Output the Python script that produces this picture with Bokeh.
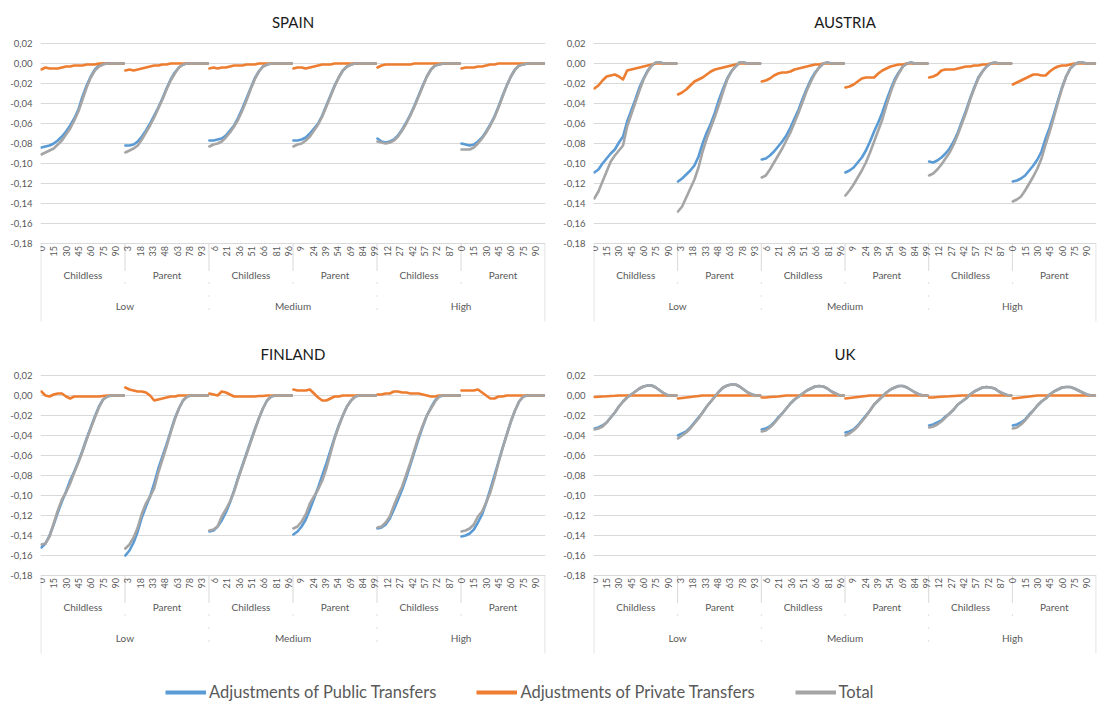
import math
import numpy as np
from bokeh.plotting import figure
from bokeh.models import (Range1d, FixedTicker, CustomJSTickFormatter, ColumnDataSource,
                          Legend, LegendItem, Grid)
from bokeh.layouts import column, row
from bokeh.embed import file_html
from bokeh.resources import INLINE
from bokeh.core.properties import value

# ---------------- data ----------------
AGES = [0, 5, 10, 15, 20, 25, 30, 35, 40, 45, 50, 55, 60, 65, 70, 75, 80, 85, 90, 95, 100]
GROUP_SIZE = 102          # ages 0..101 per category group
LEVELS = ["Low", "Medium", "High"]
STATUSES = ["Childless", "Parent"]
Y_TICKS = [0.02, 0.00, -0.02, -0.04, -0.06, -0.08, -0.10, -0.12, -0.14, -0.16, -0.18]
AGE_TICK_STEP = 15
SERIES_NAMES = ["Adjustments of Public Transfers", "Adjustments of Private Transfers", "Total"]

SPAIN_PUB = [
    [-0.084, -0.083, -0.082, -0.080, -0.077, -0.073, -0.068, -0.062, -0.055, -0.046, -0.033, -0.022, -0.013, -0.006, -0.002, 0, 0, 0, 0, 0, 0],
    [-0.082, -0.082, -0.081, -0.078, -0.073, -0.067, -0.060, -0.052, -0.044, -0.035, -0.025, -0.016, -0.009, -0.004, -0.001, 0, 0, 0, 0, 0, 0],
    [-0.077, -0.077, -0.076, -0.075, -0.072, -0.067, -0.062, -0.054, -0.045, -0.035, -0.025, -0.015, -0.008, -0.003, -0.001, 0, 0, 0, 0, 0, 0],
    [-0.077, -0.077, -0.076, -0.074, -0.070, -0.065, -0.060, -0.052, -0.042, -0.032, -0.022, -0.014, -0.007, -0.003, -0.001, 0, 0, 0, 0, 0, 0],
    [-0.075, -0.078, -0.079, -0.078, -0.076, -0.072, -0.066, -0.059, -0.051, -0.042, -0.032, -0.022, -0.013, -0.006, -0.002, -0.001, 0, 0, 0, 0, 0],
    [-0.080, -0.081, -0.082, -0.081, -0.078, -0.074, -0.068, -0.061, -0.053, -0.043, -0.032, -0.022, -0.013, -0.006, -0.002, -0.001, 0, 0, 0, 0, 0],
]
SPAIN_PRIV = [
    [-0.006, -0.004, -0.005, -0.005, -0.005, -0.004, -0.003, -0.003, -0.002, -0.002, -0.002, -0.001, -0.001, -0.001, 0, 0, 0, 0, 0, 0, 0],
    [-0.007, -0.006, -0.007, -0.006, -0.005, -0.004, -0.003, -0.002, -0.002, -0.001, -0.001, 0, 0, 0, 0, 0, 0, 0, 0, 0, 0],
    [-0.005, -0.004, -0.005, -0.004, -0.004, -0.003, -0.002, -0.002, -0.002, -0.001, -0.001, -0.001, 0, 0, 0, 0, 0, 0, 0, 0, 0],
    [-0.005, -0.004, -0.004, -0.005, -0.004, -0.003, -0.002, -0.001, -0.001, -0.001, 0, 0, 0, 0, 0, 0, 0, 0, 0, 0, 0],
    [-0.004, -0.002, -0.001, -0.001, -0.001, -0.001, -0.001, -0.001, -0.001, 0, 0, 0, 0, 0, 0, 0, 0, 0, 0, 0, 0],
    [-0.005, -0.004, -0.004, -0.004, -0.003, -0.003, -0.002, -0.001, -0.001, 0, 0, 0, 0, 0, 0, 0, 0, 0, 0, 0, 0],
]
SPAIN_TOT = [
    [-0.091, -0.089, -0.087, -0.085, -0.081, -0.077, -0.071, -0.065, -0.057, -0.048, -0.036, -0.024, -0.014, -0.007, -0.003, -0.001, 0, 0, 0, 0, 0],
    [-0.089, -0.087, -0.085, -0.082, -0.076, -0.069, -0.062, -0.054, -0.045, -0.036, -0.026, -0.017, -0.010, -0.004, -0.001, 0, 0, 0, 0, 0, 0],
    [-0.083, -0.081, -0.080, -0.078, -0.074, -0.069, -0.063, -0.056, -0.047, -0.037, -0.026, -0.016, -0.008, -0.003, -0.001, 0, 0, 0, 0, 0, 0],
    [-0.083, -0.081, -0.080, -0.077, -0.073, -0.067, -0.061, -0.053, -0.043, -0.033, -0.023, -0.014, -0.007, -0.003, -0.001, 0, 0, 0, 0, 0, 0],
    [-0.078, -0.079, -0.080, -0.079, -0.077, -0.073, -0.067, -0.060, -0.052, -0.043, -0.033, -0.023, -0.013, -0.006, -0.002, -0.001, 0, 0, 0, 0, 0],
    [-0.086, -0.086, -0.086, -0.084, -0.080, -0.075, -0.069, -0.062, -0.054, -0.044, -0.033, -0.022, -0.013, -0.006, -0.002, -0.001, 0, 0, 0, 0, 0],
]

AUSTRIA_PUB = [
    [-0.109, -0.106, -0.100, -0.095, -0.090, -0.086, -0.079, -0.073, -0.058, -0.047, -0.036, -0.024, -0.015, -0.007, -0.002, 0.001, 0.001, 0, 0, 0, 0],
    [-0.118, -0.115, -0.111, -0.107, -0.102, -0.093, -0.080, -0.069, -0.060, -0.049, -0.036, -0.025, -0.015, -0.008, -0.003, 0.001, 0.001, 0, 0, 0, 0],
    [-0.096, -0.095, -0.092, -0.088, -0.083, -0.078, -0.072, -0.064, -0.055, -0.046, -0.035, -0.025, -0.016, -0.009, -0.004, 0, 0.001, 0, 0, 0, 0],
    [-0.109, -0.107, -0.104, -0.099, -0.094, -0.087, -0.078, -0.068, -0.059, -0.049, -0.037, -0.026, -0.016, -0.009, -0.003, 0, 0.001, 0, 0, 0, 0],
    [-0.098, -0.099, -0.097, -0.094, -0.090, -0.085, -0.078, -0.069, -0.058, -0.047, -0.035, -0.024, -0.014, -0.008, -0.003, 0, 0.001, 0, 0, 0, 0],
    [-0.118, -0.117, -0.115, -0.112, -0.107, -0.102, -0.096, -0.088, -0.075, -0.064, -0.051, -0.037, -0.024, -0.013, -0.005, -0.001, 0.001, 0.001, 0, 0, 0],
]
AUSTRIA_PRIV = [
    [-0.025, -0.022, -0.017, -0.013, -0.012, -0.011, -0.013, -0.016, -0.007, -0.006, -0.005, -0.004, -0.003, -0.002, -0.001, 0, 0, 0, 0, 0, 0],
    [-0.031, -0.029, -0.026, -0.022, -0.018, -0.016, -0.014, -0.011, -0.008, -0.006, -0.005, -0.004, -0.003, -0.002, -0.001, 0, 0, 0, 0, 0, 0],
    [-0.018, -0.017, -0.015, -0.012, -0.010, -0.009, -0.009, -0.008, -0.006, -0.005, -0.004, -0.003, -0.002, -0.001, -0.001, 0, 0, 0, 0, 0, 0],
    [-0.024, -0.023, -0.021, -0.018, -0.015, -0.014, -0.014, -0.014, -0.010, -0.007, -0.005, -0.003, -0.002, -0.001, -0.001, 0, 0, 0, 0, 0, 0],
    [-0.014, -0.013, -0.011, -0.007, -0.006, -0.006, -0.006, -0.005, -0.004, -0.003, -0.003, -0.002, -0.002, -0.001, -0.001, 0, 0, 0, 0, 0, 0],
    [-0.021, -0.019, -0.017, -0.015, -0.013, -0.011, -0.011, -0.012, -0.012, -0.008, -0.005, -0.003, -0.002, -0.002, -0.001, 0, 0, 0, 0, 0, 0],
]
AUSTRIA_TOT = [
    [-0.135, -0.128, -0.118, -0.108, -0.098, -0.092, -0.087, -0.082, -0.063, -0.051, -0.039, -0.027, -0.016, -0.008, -0.002, 0.001, 0.001, 0, 0, 0, 0],
    [-0.148, -0.143, -0.134, -0.125, -0.116, -0.104, -0.088, -0.075, -0.064, -0.053, -0.041, -0.028, -0.016, -0.008, -0.003, 0.001, 0.001, 0, 0, 0, 0],
    [-0.114, -0.112, -0.106, -0.099, -0.092, -0.085, -0.077, -0.069, -0.059, -0.049, -0.038, -0.027, -0.018, -0.010, -0.004, 0, 0.001, 0, 0, 0, 0],
    [-0.132, -0.127, -0.121, -0.114, -0.107, -0.099, -0.089, -0.078, -0.067, -0.056, -0.042, -0.029, -0.018, -0.010, -0.003, 0, 0.001, 0, 0, 0, 0],
    [-0.112, -0.110, -0.106, -0.101, -0.095, -0.089, -0.081, -0.071, -0.060, -0.049, -0.036, -0.025, -0.015, -0.008, -0.003, 0, 0.001, 0, 0, 0, 0],
    [-0.138, -0.136, -0.133, -0.127, -0.120, -0.113, -0.105, -0.095, -0.081, -0.068, -0.054, -0.039, -0.025, -0.013, -0.005, -0.001, 0.001, 0.001, 0, 0, 0],
]

FINLAND_PUB = [
    [-0.152, -0.148, -0.140, -0.129, -0.117, -0.106, -0.096, -0.085, -0.076, -0.066, -0.055, -0.043, -0.032, -0.021, -0.011, -0.004, -0.001, 0, 0, 0, 0],
    [-0.160, -0.155, -0.147, -0.136, -0.122, -0.111, -0.101, -0.088, -0.073, -0.061, -0.049, -0.036, -0.023, -0.013, -0.005, -0.001, 0, 0, 0, 0, 0],
    [-0.136, -0.135, -0.131, -0.125, -0.117, -0.107, -0.095, -0.082, -0.070, -0.058, -0.046, -0.034, -0.023, -0.013, -0.005, -0.001, 0, 0, 0, 0, 0],
    [-0.139, -0.136, -0.131, -0.124, -0.114, -0.103, -0.092, -0.080, -0.068, -0.055, -0.042, -0.030, -0.020, -0.011, -0.005, -0.001, 0, 0, 0, 0, 0],
    [-0.133, -0.132, -0.129, -0.123, -0.114, -0.104, -0.094, -0.082, -0.069, -0.056, -0.043, -0.031, -0.020, -0.012, -0.005, -0.001, 0, 0, 0, 0, 0],
    [-0.141, -0.140, -0.138, -0.134, -0.127, -0.119, -0.107, -0.094, -0.080, -0.066, -0.052, -0.039, -0.026, -0.015, -0.006, -0.001, 0, 0, 0, 0, 0],
]
FINLAND_PRIV = [
    [0.004, 0.000, -0.001, 0.001, 0.002, 0.002, -0.001, -0.003, -0.001, -0.001, -0.001, -0.001, -0.001, -0.001, -0.001, -0.0005, 0, 0, 0, 0, 0],
    [0.008, 0.006, 0.005, 0.004, 0.004, 0.003, 0.000, -0.005, -0.004, -0.003, -0.002, -0.001, -0.001, 0, 0, 0, 0, 0, 0, 0, 0],
    [0.002, 0.001, 0.000, 0.004, 0.003, 0.001, -0.001, -0.001, -0.001, -0.001, -0.001, -0.001, -0.0005, -0.0005, 0, 0, 0, 0, 0, 0, 0],
    [0.006, 0.005, 0.005, 0.005, 0.006, 0.002, -0.002, -0.005, -0.005, -0.003, -0.001, -0.001, 0, 0, 0, 0, 0, 0, 0, 0, 0],
    [0.001, 0.001, 0.002, 0.002, 0.004, 0.004, 0.003, 0.003, 0.002, 0.002, 0.002, 0.001, 0.000, -0.001, -0.001, 0, 0, 0, 0, 0, 0],
    [0.005, 0.005, 0.005, 0.005, 0.006, 0.003, 0.000, -0.003, -0.003, -0.001, -0.001, 0, 0, 0, 0, 0, 0, 0, 0, 0, 0],
]
FINLAND_TOT = [
    [-0.149, -0.148, -0.141, -0.128, -0.115, -0.104, -0.097, -0.088, -0.077, -0.067, -0.056, -0.044, -0.033, -0.022, -0.012, -0.004, -0.001, 0, 0, 0, 0],
    [-0.153, -0.149, -0.142, -0.132, -0.118, -0.108, -0.101, -0.093, -0.077, -0.064, -0.051, -0.037, -0.024, -0.013, -0.005, -0.001, 0, 0, 0, 0, 0],
    [-0.135, -0.134, -0.131, -0.121, -0.114, -0.106, -0.096, -0.083, -0.071, -0.059, -0.047, -0.035, -0.023, -0.013, -0.005, -0.001, 0, 0, 0, 0, 0],
    [-0.133, -0.131, -0.126, -0.119, -0.108, -0.101, -0.094, -0.085, -0.073, -0.058, -0.043, -0.031, -0.020, -0.011, -0.005, -0.001, 0, 0, 0, 0, 0],
    [-0.132, -0.131, -0.127, -0.121, -0.110, -0.100, -0.091, -0.079, -0.067, -0.054, -0.041, -0.030, -0.020, -0.013, -0.006, -0.001, 0, 0, 0, 0, 0],
    [-0.136, -0.135, -0.133, -0.129, -0.121, -0.116, -0.107, -0.097, -0.083, -0.067, -0.053, -0.039, -0.026, -0.015, -0.006, -0.001, 0, 0, 0, 0, 0],
]

UK_PUB = [
    [-0.033, -0.032, -0.030, -0.027, -0.022, -0.017, -0.011, -0.006, -0.002, 0.001, 0.004, 0.007, 0.009, 0.010, 0.010, 0.008, 0.005, 0.002, 0.000, 0, 0],
    [-0.040, -0.038, -0.036, -0.032, -0.027, -0.022, -0.017, -0.011, -0.006, -0.001, 0.004, 0.008, 0.010, 0.011, 0.011, 0.009, 0.006, 0.003, 0.001, 0, 0],
    [-0.034, -0.033, -0.031, -0.027, -0.022, -0.018, -0.013, -0.008, -0.004, -0.001, 0.002, 0.005, 0.007, 0.009, 0.0095, 0.009, 0.007, 0.004, 0.002, 0, 0],
    [-0.037, -0.036, -0.034, -0.030, -0.025, -0.020, -0.015, -0.009, -0.005, -0.001, 0.003, 0.006, 0.008, 0.0095, 0.0095, 0.008, 0.0055, 0.003, 0.001, 0, 0],
    [-0.030, -0.029, -0.027, -0.025, -0.021, -0.018, -0.014, -0.009, -0.006, -0.003, 0.001, 0.004, 0.006, 0.008, 0.0085, 0.008, 0.007, 0.004, 0.002, 0.0005, 0],
    [-0.030, -0.029, -0.027, -0.024, -0.019, -0.015, -0.010, -0.006, -0.003, 0.001, 0.004, 0.006, 0.008, 0.0085, 0.0085, 0.007, 0.005, 0.003, 0.001, 0, 0],
]
UK_PRIV = [
    [-0.0015, -0.0012, -0.001, -0.0008, -0.0005, -0.0003, 0, 0, 0, 0, 0, 0, 0, 0, 0, 0, 0, 0, 0, 0, 0],
    [-0.003, -0.0025, -0.002, -0.0015, -0.001, -0.0005, 0, 0, 0, 0, 0, 0, 0, 0, 0, 0, 0, 0, 0, 0, 0],
    [-0.002, -0.002, -0.0015, -0.0012, -0.001, -0.0005, 0, 0, 0, 0, 0, 0, 0, 0, 0, 0, 0, 0, 0, 0, 0],
    [-0.003, -0.0025, -0.002, -0.0015, -0.001, -0.0005, 0, 0, 0, 0, 0, 0, 0, 0, 0, 0, 0, 0, 0, 0, 0],
    [-0.002, -0.002, -0.0015, -0.0012, -0.001, -0.0008, -0.0005, -0.0002, 0, 0, 0, 0, 0, 0, 0, 0, 0, 0, 0, 0, 0],
    [-0.003, -0.0025, -0.002, -0.0015, -0.001, -0.0005, 0, 0, 0, 0, 0, 0, 0, 0, 0, 0, 0, 0, 0, 0, 0],
]
UK_TOT = [
    [-0.034, -0.033, -0.031, -0.027, -0.022, -0.017, -0.011, -0.006, -0.002, 0.001, 0.004, 0.007, 0.009, 0.010, 0.010, 0.008, 0.005, 0.002, 0.000, 0, 0],
    [-0.043, -0.040, -0.037, -0.033, -0.028, -0.023, -0.017, -0.011, -0.006, -0.001, 0.004, 0.008, 0.010, 0.011, 0.011, 0.009, 0.006, 0.003, 0.001, 0, 0],
    [-0.036, -0.035, -0.032, -0.028, -0.023, -0.018, -0.013, -0.008, -0.004, -0.001, 0.002, 0.005, 0.007, 0.009, 0.0095, 0.009, 0.007, 0.004, 0.002, 0, 0],
    [-0.040, -0.038, -0.035, -0.031, -0.026, -0.021, -0.015, -0.009, -0.005, -0.001, 0.003, 0.006, 0.008, 0.0095, 0.0095, 0.008, 0.0055, 0.003, 0.001, 0, 0],
    [-0.032, -0.031, -0.029, -0.026, -0.022, -0.018, -0.014, -0.009, -0.006, -0.003, 0.001, 0.004, 0.006, 0.008, 0.0085, 0.008, 0.007, 0.004, 0.002, 0.0005, 0],
    [-0.033, -0.032, -0.029, -0.025, -0.020, -0.015, -0.010, -0.006, -0.003, 0.001, 0.004, 0.006, 0.008, 0.0085, 0.0085, 0.007, 0.005, 0.003, 0.001, 0, 0],
]

# ---------------- style ----------------
COLORS = ["#5B9BD5", "#ED7D31", "#A5A5A5"]
GRID_COLOR = "#D9D9D9"
LABEL_COLOR = "#595959"
FONT = "Lato"
N_GROUPS = len(LEVELS) * len(STATUSES)
N_CAT = N_GROUPS * GROUP_SIZE
Y_TOP = 0.025
Y_BOTTOM = -0.267
FRAME_H = 292
PX = (Y_TOP - Y_BOTTOM) / FRAME_H
AXIS_Y = min(Y_TICKS)


def series_xy(rows):
    xs, ys = [], []
    for g, vals in enumerate(rows):
        for a, v in zip(AGES, vals):
            xs.append(g * GROUP_SIZE + a + 0.5)
            ys.append(v)
        xs.append(np.nan)
        ys.append(np.nan)
    return np.array(xs, dtype=float), np.array(ys, dtype=float)


def make_panel(title, series, left, frame_w, right, top):
    p = figure(frame_width=frame_w, frame_height=FRAME_H,
               x_range=Range1d(-0.5, N_CAT + 0.5), y_range=Range1d(Y_BOTTOM, Y_TOP),
               output_backend="svg", toolbar_location=None, x_axis_location=None,
               min_border_left=left, min_border_right=right, min_border_top=top,
               min_border_bottom=0, outline_line_color=None, background_fill_color="white",
               border_fill_color="white")
    p.title.text = title
    p.title.align = "center"
    p.title.text_font = FONT
    p.title.text_font_size = "15px"
    p.title.text_font_style = "normal"
    p.title.text_color = "#1a1a1a"
    p.title.standoff = 16

    ya = p.yaxis[0]
    ya.ticker = FixedTicker(ticks=Y_TICKS)
    ya.formatter = CustomJSTickFormatter(code="return tick.toFixed(2).replace('.', ',');")
    ya.axis_line_color = None
    ya.major_tick_line_color = None
    ya.minor_tick_line_color = None
    ya.major_tick_out = 0
    ya.major_tick_in = 0
    ya.major_label_standoff = 8
    ya.major_label_text_font = FONT
    ya.major_label_text_font_size = "9.5px"
    ya.major_label_text_color = LABEL_COLOR
    for g in p.grid:
        g.visible = False
    p.add_layout(Grid(dimension=1, ticker=FixedTicker(ticks=Y_TICKS),
                      grid_line_color=GRID_COLOR, grid_line_width=1))

    # category separators below the axis
    bounds = [g * GROUP_SIZE for g in range(N_GROUPS + 1)]
    solid_x, solid_y1, dash_x, dash_y1 = [], [], [], []
    for i, b in enumerate(bounds):
        if i == 0 or i == N_GROUPS:
            solid_x.append(b); solid_y1.append(AXIS_Y - 78 * PX)
        else:
            solid_x.append(b); solid_y1.append(AXIS_Y - 26 * PX)
            dash_x.append(b)
            dash_y1.append(AXIS_Y - (78 if i % 2 == 0 else 48) * PX)
    p.segment(x0=solid_x, y0=[AXIS_Y] * len(solid_x), x1=solid_x, y1=solid_y1,
              line_color=GRID_COLOR, line_width=1)
    p.segment(x0=dash_x, y0=[AXIS_Y - 26 * PX] * len(dash_x), x1=dash_x, y1=dash_y1,
              line_color="#BFBFBF", line_width=1, line_dash="1 12")

    # age tick labels
    ticks = list(range(0, N_CAT, AGE_TICK_STEP))
    src = ColumnDataSource(dict(x=[k + 0.5 for k in ticks], y=[AXIS_Y - 2.5 * PX] * len(ticks),
                                text=[str(k % GROUP_SIZE) for k in ticks]))
    p.text(x="x", y="y", text="text", source=src, angle=math.pi / 2, text_align="right",
           text_baseline="middle", text_font=value(FONT), text_font_size=value("9px"),
           text_color=LABEL_COLOR)
    # status labels
    src2 = ColumnDataSource(dict(x=[g * GROUP_SIZE + GROUP_SIZE / 2 for g in range(N_GROUPS)],
                                 y=[AXIS_Y - 31 * PX] * N_GROUPS,
                                 text=[STATUSES[g % 2] for g in range(N_GROUPS)]))
    p.text(x="x", y="y", text="text", source=src2, text_align="center", text_baseline="middle",
           text_font=value(FONT), text_font_size=value("10px"), text_color=LABEL_COLOR)
    # level labels
    lw = GROUP_SIZE * len(STATUSES)
    src3 = ColumnDataSource(dict(x=[l * lw + lw / 2 for l in range(len(LEVELS))],
                                 y=[AXIS_Y - 62 * PX] * len(LEVELS), text=LEVELS))
    p.text(x="x", y="y", text="text", source=src3, text_align="center", text_baseline="middle",
           text_font=value(FONT), text_font_size=value("10px"), text_color=LABEL_COLOR)

    for rows, col in zip(series, COLORS):
        xs, ys = series_xy(rows)
        p.line(xs, ys, line_color=col, line_width=2.6, line_join="round", line_cap="round")
    return p


p1 = make_panel("SPAIN", [SPAIN_PUB, SPAIN_PRIV, SPAIN_TOT], 40, 505, 5, 38)
p2 = make_panel("AUSTRIA", [AUSTRIA_PUB, AUSTRIA_PRIV, AUSTRIA_TOT], 43, 503, 2, 38)
p3 = make_panel("FINLAND", [FINLAND_PUB, FINLAND_PRIV, FINLAND_TOT], 40, 505, 5, 40)
p4 = make_panel("UK", [UK_PUB, UK_PRIV, UK_TOT], 43, 503, 2, 40)

lf = figure(width=1098, height=42, x_range=Range1d(0, 1), y_range=Range1d(0, 1),
            output_backend="svg", toolbar_location=None, x_axis_location=None,
            y_axis_location=None, min_border=0, outline_line_color=None)
for g in lf.grid:
    g.visible = False
# legend sample lines (their data lies outside the visible range; only the legend glyphs show)
rs = [lf.line([5, 6], [5, 6], line_color=c, line_width=4) for c in COLORS]
leg = Legend(items=[LegendItem(label=n, renderers=[r]) for n, r in zip(SERIES_NAMES, rs)],
             orientation="horizontal", location=(165, 2), glyph_width=41, glyph_height=18,
             label_standoff=3, spacing=40, padding=0, margin=0, border_line_color=None,
             background_fill_alpha=0, label_text_font=FONT, label_text_font_size="16.5px",
             label_text_color=LABEL_COLOR)
lf.add_layout(leg, "center")

layout = column(row(p1, p2), row(p3, p4), lf)
open("out.html", "w").write(file_html(layout, INLINE))
